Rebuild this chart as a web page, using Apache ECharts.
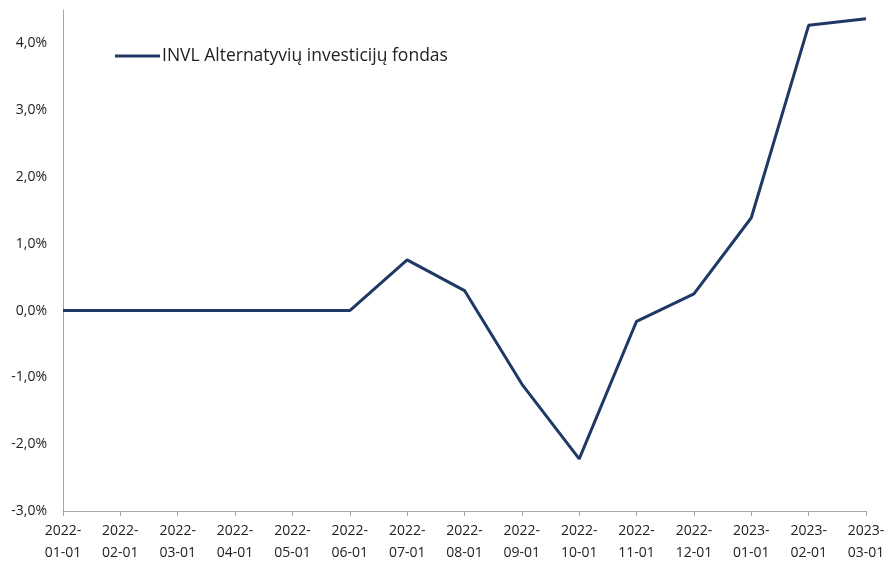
<!DOCTYPE html>
<html>
<head>
<meta charset="utf-8">
<script src="https://cdn.jsdelivr.net/npm/echarts@6/dist/echarts.min.js"></script>
<style>
  html, body { margin: 0; padding: 0; background: #fff; }
  #chart { width: 888px; height: 564px; }
</style>
</head>
<body>
<div id="chart"></div>
<script>
const categories = ['2022-01-01', '2022-02-01', '2022-03-01', '2022-04-01', '2022-05-01',
  '2022-06-01', '2022-07-01', '2022-08-01', '2022-09-01', '2022-10-01', '2022-11-01',
  '2022-12-01', '2023-01-01', '2023-02-01', '2023-03-01']
const fundValues = [0, 0, 0, 0, 0, 0, 0.76, 0.30, -1.10, -2.22, -0.16, 0.25, 1.39, 4.27, 4.37]
const seriesName = 'INVL Alternatyvių investicijų fondas'

const font = '"Open Sans", "Liberation Sans", sans-serif'
const myChart = echarts.init(document.getElementById('chart'))

myChart.setOption({
  animation: false,
  grid: { left: 63, right: 22, top: 10, bottom: 53 },
  legend: {
    data: [seriesName],
    left: 115,
    top: 47,
    padding: 0,
    icon: 'rect',
    itemWidth: 45,
    itemHeight: 3,
    itemGap: 4,
    textStyle: { fontFamily: font, fontSize: 17.5, color: '#222', padding: [0, 0, 0, -3] }
  },
  xAxis: {
    type: 'category',
    data: categories,
    boundaryGap: false,
    axisLine: { onZero: false, lineStyle: { color: '#a6a6a6', width: 1 } },
    axisTick: { show: true, length: 5, lineStyle: { color: '#a6a6a6' } },
    axisLabel: {
      interval: 0,
      margin: 9,
      fontFamily: font,
      fontSize: 14,
      color: '#222',
      lineHeight: 22,
      formatter: v => v.slice(0, 5) + '\n' + v.slice(5)
    },
    splitLine: { show: false }
  },
  yAxis: {
    type: 'value',
    min: -3,
    max: 4.5,
    interval: 1,
    axisLine: { show: true, lineStyle: { color: '#a6a6a6', width: 1 } },
    axisTick: { show: false },
    splitLine: { show: false },
    axisLabel: {
      margin: 16,
      showMaxLabel: false,
      fontFamily: font,
      fontSize: 14,
      color: '#222',
      formatter: v => v.toFixed(1).replace('.', ',') + '%'
    }
  },
  series: [{
    name: seriesName,
    type: 'line',
    data: fundValues,
    symbol: 'none',
    lineStyle: { color: '#1f3864', width: 3 },
    itemStyle: { color: '#1f3864' }
  }]
})
</script>
</body>
</html>
